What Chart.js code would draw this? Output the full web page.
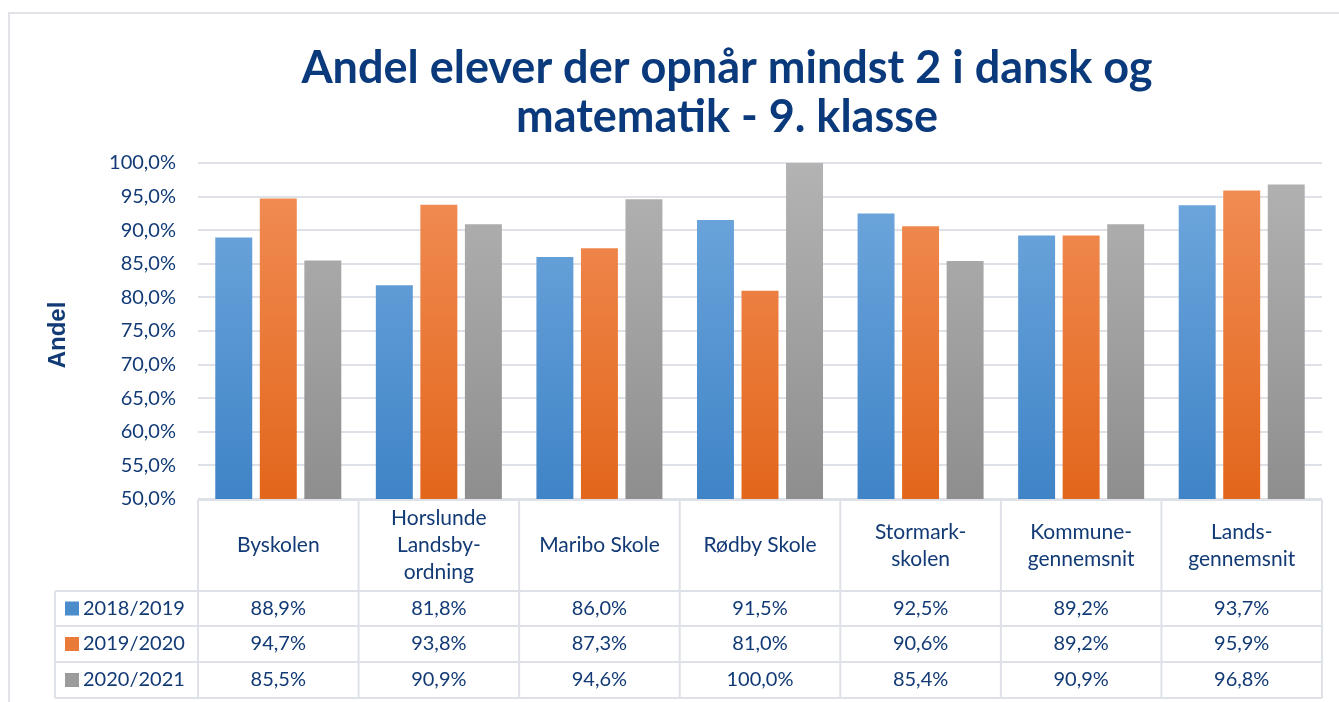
<!DOCTYPE html>
<html>
<head>
<meta charset="utf-8">
<script src="https://cdn.jsdelivr.net/npm/chart.js@4/dist/chart.umd.min.js"></script>
<style>
  html, body { margin: 0; padding: 0; background: #fff; }
  #wrap { width: 1339px; height: 702px; }
</style>
</head>
<body>
<div id="wrap"><canvas id="grafik" width="1339" height="702"></canvas></div>
<script>
// skoler / kategorier (linjer som i tabellens hoved)
const kategorier = [
  ["Byskolen"],
  ["Horslunde", "Landsby-", "ordning"],
  ["Maribo Skole"],
  ["Rødby Skole"],
  ["Stormark-", "skolen"],
  ["Kommune-", "gennemsnit"],
  ["Lands-", "gennemsnit"]
];

const aar = ["2018/2019", "2019/2020", "2020/2021"];

const v2018 = [88.9, 81.8, 86.0, 91.5, 92.5, 89.2, 93.7];
const v2019 = [94.7, 93.8, 87.3, 81.0, 90.6, 89.2, 95.9];
const v2020 = [85.5, 90.9, 94.6, 100.0, 85.4, 90.9, 96.8];

const titel = ["Andel elever der opnår mindst 2 i dansk og", "matematik - 9. klasse"];

const FONT = "Lato, 'Open Sans', sans-serif";
const NAVY = "#123a75";
const LINJE = "#dfe1e8";

// farver: top, bund, legende
const farver = [
  ["#72a9de", "#3f84c7", "#4a8ccc"],
  ["#f28f58", "#e2661b", "#ea7a3a"],
  ["#b3b3b3", "#8e8e8e", "#9c9c9c"]
];

function pct(v) {
  return v.toFixed(1).replace(".", ",") + "%";
}

function gradient(ctx, i) {
  const chart = ctx.chart;
  const area = chart.chartArea;
  if (!area) return farver[i][2];
  const g = chart.ctx.createLinearGradient(0, area.top, 0, area.bottom);
  g.addColorStop(0, farver[i][0]);
  g.addColorStop(1, farver[i][1]);
  return g;
}

const tabelPlugin = {
  id: "tabel",
  beforeDraw(chart) {
    const c = chart.ctx;
    c.save();
    c.strokeStyle = "#e1e3e9";
    c.lineWidth = 2;
    c.strokeRect(9, 13, 1340, 700);
    c.restore();
  },
  afterDraw(chart) {
    const c = chart.ctx;
    const area = chart.chartArea;
    const x = chart.scales.x;
    const n = kategorier.length;
    const bredde = (area.right - area.left) / n;
    const top = area.bottom + 1;
    const hoved = 591;
    const raekker = [591, 626, 662, 698];
    const venstre = 55;

    c.save();
    c.strokeStyle = LINJE;
    c.lineWidth = 2;

    c.beginPath();
    c.moveTo(area.left, top);
    c.lineTo(area.right, top);
    for (let i = 0; i <= n; i++) {
      const px = area.left + i * bredde;
      c.moveTo(px, top);
      c.lineTo(px, raekker[3]);
    }
    raekker.forEach((y) => {
      c.moveTo(venstre, y);
      c.lineTo(area.right, y);
    });
    c.moveTo(venstre, raekker[0]);
    c.lineTo(venstre, raekker[3]);
    c.stroke();

    // titel
    c.fillStyle = "#0a3a7c";
    c.font = "bold 45px " + FONT;
    c.textAlign = "center";
    c.textBaseline = "middle";
    c.fillText(titel[0], 727, 68);
    c.fillText(titel[1], 727, 117);

    // y-akse titel
    c.save();
    c.translate(58, 335);
    c.rotate(-Math.PI / 2);
    c.font = "bold 24px 'Liberation Sans', Arial, sans-serif";
    c.fillStyle = NAVY;
    c.fillText("Andel", 0, 0);
    c.restore();

    // kategori-tekster
    c.fillStyle = NAVY;
    c.font = "21px " + FONT;
    const midt = (top + hoved) / 2;
    kategorier.forEach((linjer, i) => {
      const cx = x.getPixelForTick(i);
      const lh = 27;
      const start = midt - ((linjer.length - 1) * lh) / 2;
      linjer.forEach((t, j) => c.fillText(t, cx, start + j * lh));
    });

    // værdier
    c.font = "20px " + FONT;
    const serier = [v2018, v2019, v2020];
    serier.forEach((vals, r) => {
      const cy = (raekker[r] + raekker[r + 1]) / 2;
      vals.forEach((v, i) => {
        c.textAlign = "center";
        c.fillStyle = NAVY;
        c.fillText(pct(v), x.getPixelForTick(i), cy);
      });
      c.fillStyle = farver[r][2];
      c.fillRect(65, cy - 7, 14, 14);
      c.fillStyle = NAVY;
      c.textAlign = "left";
      c.fillText(aar[r], 83, cy);
    });
    c.restore();
  }
};

new Chart(document.getElementById("grafik"), {
  type: "bar",
  data: {
    labels: kategorier,
    datasets: [
      { label: aar[0], data: v2018, backgroundColor: (ctx) => gradient(ctx, 0) },
      { label: aar[1], data: v2019, backgroundColor: (ctx) => gradient(ctx, 1) },
      { label: aar[2], data: v2020, backgroundColor: (ctx) => gradient(ctx, 2) }
    ]
  },
  options: {
    responsive: false,
    animation: false,
    layout: {
      padding: { left: 40, top: 163, right: 17, bottom: 203 }
    },
    datasets: {
      bar: { categoryPercentage: 0.832, barPercentage: 0.83 }
    },
    plugins: {
      legend: { display: false },
      title: { display: false },
      tooltip: { enabled: false }
    },
    scales: {
      x: {
        display: false
      },
      y: {
        min: 50,
        max: 100,
        ticks: {
          stepSize: 5,
          padding: 22,
          color: NAVY,
          font: { family: FONT, size: 20 },
          callback: (v) => pct(v)
        },
        grid: { color: LINJE, lineWidth: 2, drawTicks: false },
        border: { display: false },
        afterFit(scale) {
          scale.width = 158;
        }
      }
    }
  },
  plugins: [tabelPlugin]
});
</script>
</body>
</html>
